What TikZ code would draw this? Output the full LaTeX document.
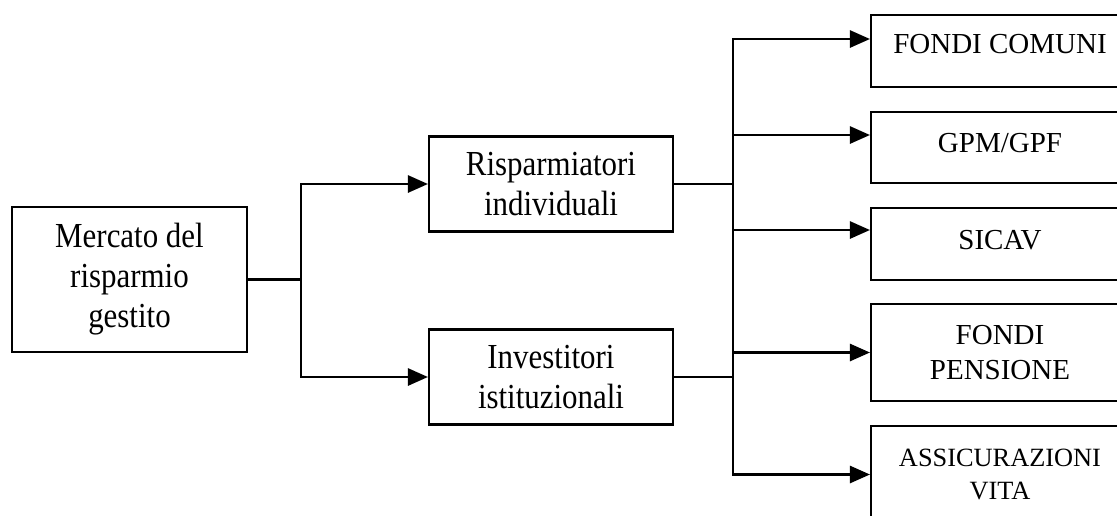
\documentclass[tikz,border=0pt]{standalone}
\usepackage{fontspec}
\setmainfont{Liberation Serif}
\newfontfamily\narrowserif{Liberation Serif}[FakeStretch=0.88]
\usetikzlibrary{arrows.meta}
\begin{document}
\begin{tikzpicture}[x=0.02cm,y=-0.02cm,line width=1.5pt,
		box/.style={draw,black,line width=1.2pt,inner sep=0pt,align=center,font=\narrowserif\fontsize{20}{22.8}\selectfont,minimum width=4.88cm,minimum height=1.9cm},
		fbox/.style={draw,black,line width=1.2pt,inner sep=0pt,align=center,font=\fontsize{16.5}{20}\selectfont,minimum width=5.16cm,minimum height=1.43cm},
		arr/.style={-{Triangle[length=0.4cm,width=0.34cm]}}]
		\clip (0,0) rectangle (1117,515);
		\node[box,minimum width=4.7cm,minimum height=2.9cm](mercato) at (129.5,279.5){Mercato del\\risparmio\\gestito};
		\node[box](risp) at (551,184){Risparmiatori\\individuali};
		\node[box](inv) at (551,377){Investitori\\istituzionali};
		\node[fbox,text depth=8pt](fondi) at (1000,51){FONDI COMUNI};
		\node[fbox,text depth=5pt](gpm) at (1000,147.5){GPM/GPF};
		\node[fbox,text depth=5pt](sicav) at (1000,244){SICAV};
		\node[fbox,minimum height=1.94cm](pens) at (1000,352.5){FONDI\\PENSIONE};
		\node[fbox,minimum height=1.94cm,font=\fontsize{15}{18.8}\selectfont](vita) at (1000,474.5){ASSICURAZIONI\\VITA};
		\coordinate (j1) at (301,279.5);
		\coordinate (j2) at (733,184);
		\draw (mercato.east)--(j1);
		\draw[arr] (j1)|-(risp.west);
		\draw[arr] (j1)|-(inv.west);
		\draw (risp.east)--(j2);
		\draw (inv.east)--(inv.east-|j2);
		\draw[arr] (j2)|-([yshift=0.24cm]fondi.west);
		\draw[arr] (j2)|-([yshift=0.25cm]gpm.west);
		\draw[arr] (j2)|-([yshift=0.28cm]sicav.west);
		\draw[arr] (j2)|-(pens.west);
		\draw[arr] (j2)|-(vita.west);
	\end{tikzpicture}
\end{document}
